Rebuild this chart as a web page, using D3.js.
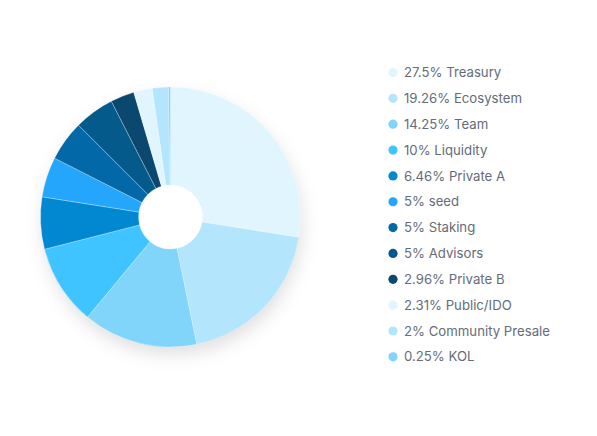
<!DOCTYPE html>
<html>
<head>
<meta charset="utf-8">
<script src="https://cdn.jsdelivr.net/npm/d3@7"></script>
<style>
  body { margin: 0; background: #fff; }
  svg { display: block; }
</style>
</head>
<body>
<svg id="chart" width="597" height="436"></svg>
<script>
var labels = ["Treasury", "Ecosystem", "Team", "Liquidity", "Private A", "seed", "Staking", "Advisors", "Private B", "Public/IDO", "Community Presale", "KOL"];
var values = [27.5, 19.26, 14.25, 10, 6.46, 5, 5, 5, 2.96, 2.31, 2, 0.25];
var colors = ["#e1f5fe", "#b3e5fc", "#81d4fa", "#40c4ff", "#0288d1", "#24a6fd", "#0368a7", "#055a8c", "#0b4870", "#e1f5fe", "#b3e5fc", "#81d4fa"];

var svg = d3.select("#chart");

var defs = svg.append("defs");
var filter = defs.append("filter").attr("id", "shadow")
    .attr("x", "-30%").attr("y", "-30%").attr("width", "160%").attr("height", "160%");
filter.append("feDropShadow")
    .attr("dx", 2).attr("dy", 8)
    .attr("stdDeviation", 9)
    .attr("flood-color", "#000")
    .attr("flood-opacity", 0.13);

var data = labels.map(function(l, i) { return {label: l, value: values[i], color: colors[i]}; });

var pie = d3.pie().sort(null).value(function(d) { return d.value; });
var arc = d3.arc().innerRadius(32).outerRadius(130);

var g = svg.append("g").attr("transform", "translate(170.5,217)");

// shadow drawn under the ring
g.append("path")
    .attr("d", d3.arc().innerRadius(0).outerRadius(129)({startAngle: 0, endAngle: 2 * Math.PI}))
    .attr("fill", "#fff")
    .attr("filter", "url(#shadow)");

g.selectAll(".slice")
    .data(pie(data))
    .enter()
    .append("path")
    .attr("class", "slice")
    .attr("d", arc)
    .attr("fill", function(d) { return d.data.color; })
    .attr("stroke", "rgba(255,255,255,0.45)")
    .attr("stroke-width", 0.6);

// legend
var legend = svg.append("g").attr("transform", "translate(393,72.5)");
var rowH = 25.85;

var rows = legend.selectAll(".row")
    .data(data)
    .enter()
    .append("g")
    .attr("class", "row")
    .attr("transform", function(d, i) { return "translate(0," + (i * rowH) + ")"; });

rows.append("circle")
    .attr("r", 4.6)
    .attr("fill", function(d) { return d.color; });

rows.append("text")
    .attr("x", 11)
    .attr("dy", "0.35em")
    .attr("font-family", "Inter, 'Noto Sans', sans-serif")
    .attr("font-size", "13.2px")
    .attr("fill", "#646c79")
    .text(function(d) { return d.value + "% " + d.label; });
</script>
</body>
</html>
